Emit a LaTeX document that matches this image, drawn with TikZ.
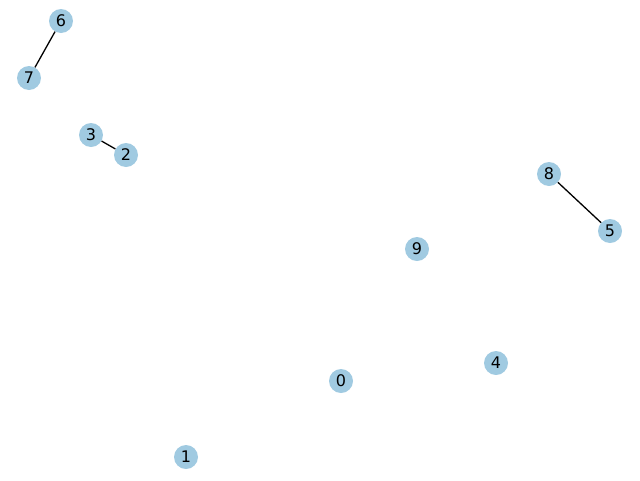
\documentclass[tikz,border=0pt]{standalone}
\usepackage{fontspec}
\setmainfont{DejaVu Sans}
\usepackage{tikz}
\definecolor{nodeblue}{RGB}{160,202,225}

\begin{document}
\begin{tikzpicture}[
  x=1pt, y=-1pt,
  vtx/.style={circle, fill=nodeblue, minimum size=24pt, inner sep=0pt, font=\fontsize{16}{16}\selectfont},
  edg/.style={black, line width=1.3pt}
]
\useasboundingbox (0,0) rectangle (640,480);

\node[vtx] (n6) at (61,21) {6};
\node[vtx] (n7) at (29,78) {7};
\node[vtx] (n3) at (91,135) {3};
\node[vtx] (n2) at (126,155) {2};
\node[vtx] (n8) at (549,174) {8};
\node[vtx] (n5) at (610,231) {5};
\node[vtx] (n9) at (417,249) {9};
\node[vtx] (n4) at (496,363) {4};
\node[vtx] (n0) at (341,381) {0};
\node[vtx] (n1) at (186,457) {1};

\draw[edg] (n6) -- (n7);
\draw[edg] (n3) -- (n2);
\draw[edg] (n8) -- (n5);
\end{tikzpicture}
\end{document}
